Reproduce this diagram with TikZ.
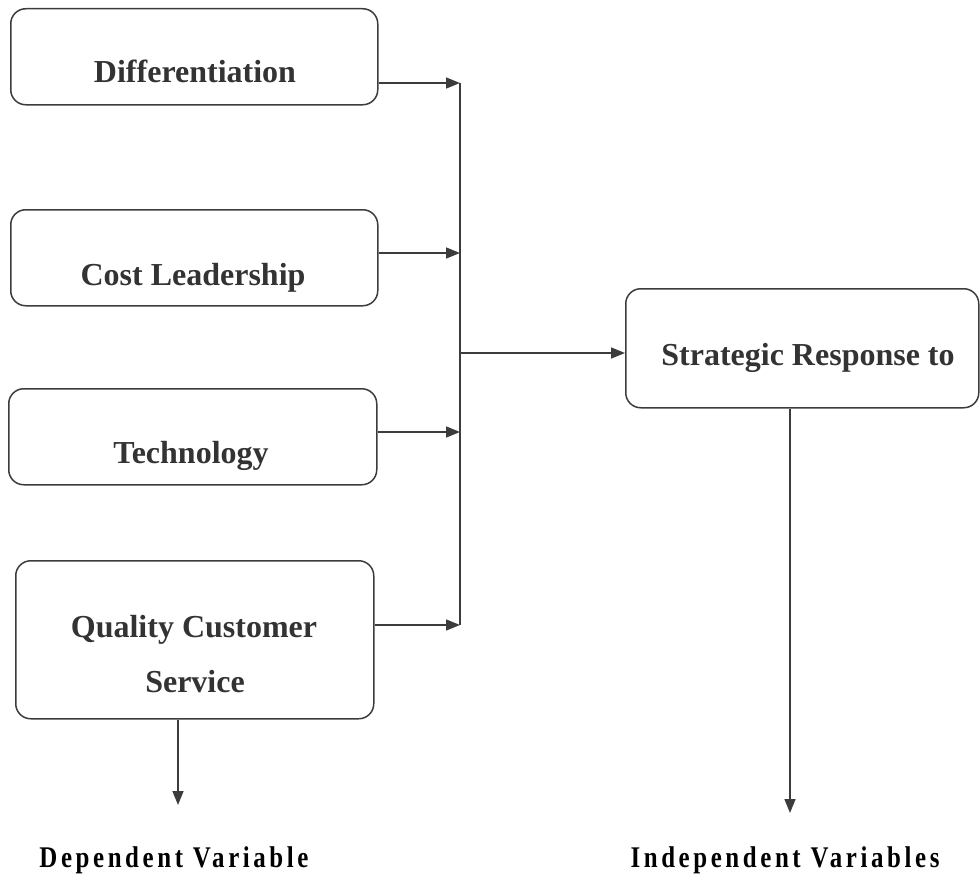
\documentclass[tikz,border=0pt]{standalone}
\usepackage{fontspec}
\setmainfont{Liberation Serif}
\newfontfamily\labelfont{Liberation Serif}[FakeStretch=0.83,LetterSpace=12]
\usetikzlibrary{arrows.meta}
\definecolor{linegray}{HTML}{3C3C3C}
\definecolor{textgray}{HTML}{333333}
\begin{document}
\begin{tikzpicture}[x=1pt,y=-1pt,
  box/.style={draw=linegray, line width=1.5pt, rounded corners=15pt,
    inner sep=0pt, anchor=north west},
  boxtext/.style={text=textgray, font=\fontsize{32}{38}\selectfont\bfseries,
    inner sep=0pt, anchor=base},
  vartext/.style={text=black, font=\fontsize{30}{36}\selectfont\labelfont\bfseries,
    inner sep=0pt, anchor=base},
  wire/.style={draw=linegray, line width=1.5pt},
  conn/.style={wire, -{Triangle[length=14pt,width=11pt]}}]
  \useasboundingbox (0,0) rectangle (980,875);

  % factor boxes
  \node[box, minimum width=367pt, minimum height=96pt] (diff) at (10,8) {};
  \node[box, minimum width=367pt, minimum height=96pt] (cost) at (10,209) {};
  \node[box, minimum width=368pt, minimum height=96pt] (tech) at (8,388) {};
  \node[box, minimum width=358pt, minimum height=158pt] (qcs) at (15,560) {};
  \node[box, minimum width=353pt, minimum height=119pt] (strat) at (625,288) {};

  % box texts
  \node[boxtext] (diffT) at (195,83) {Differentiation};
  \node[boxtext] (costT) at (193,285) {Cost Leadership};
  \node[boxtext] (techT) at (191,463) {Technology};
  \node[boxtext] (qcsT1) at (194,637) {Quality Customer};
  \node[boxtext] (qcsT2) at (195,692) {Service};
  \node[boxtext] (stratT) at (808,365) {Strategic Response to};

  % collecting bus
  \coordinate (j1) at (460,83);
  \coordinate (j2) at (460,253);
  \coordinate (j3) at (460,432);
  \coordinate (j4) at (460,625);
  \coordinate (jm) at (460,353);
  \draw[wire] (j1) -- (j4);
  \draw[conn] (diff.east |- j1) -- (j1);
  \draw[conn] (cost.east |- j2) -- (j2);
  \draw[conn] (tech.east |- j3) -- (j3);
  \draw[conn] (qcs.east |- j4) -- (j4);
  \draw[conn] (jm) -- (strat.west |- jm);

  % arrows down to the variable labels
  \coordinate (depEnd) at (178,805);
  \coordinate (indEnd) at (790,813);
  \draw[conn] (qcs.south -| depEnd) -- (depEnd);
  \draw[conn] (strat.south -| indEnd) -- (indEnd);

  \node[vartext] (depL) at (174,867) {Dependent Variable};
  \node[vartext] (indL) at (785,867) {Independent Variables};
\end{tikzpicture}
\end{document}
